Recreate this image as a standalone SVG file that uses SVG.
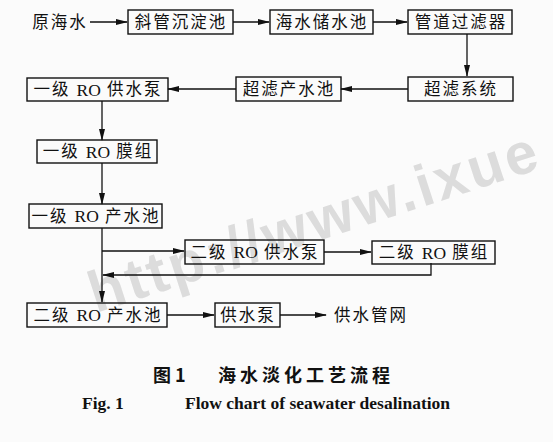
<svg xmlns="http://www.w3.org/2000/svg" width="553" height="442" viewBox="0 0 553 442">
<style>
.bg{fill:#fbfbfb}
.box{fill:none;stroke:#111;stroke-width:1.4}
.t{font-family:"Liberation Serif","Noto Sans CJK SC",serif;font-size:16.5px;fill:#111;text-anchor:middle;dominant-baseline:central;letter-spacing:2px}
.ro{font-size:17.5px;letter-spacing:0}
.ln{fill:none;stroke:#111;stroke-width:1.3}
.arr{marker-end:url(#ah)}
.wm{font-family:"Liberation Sans",sans-serif;font-weight:bold;font-size:58px;fill:#dcdcdc;letter-spacing:3px}
.cap1{font-family:"Noto Sans CJK SC",sans-serif;font-weight:bold;font-size:18px;fill:#111}
.cap2{font-family:"Liberation Serif",serif;font-weight:bold;font-size:17.5px;fill:#111}
</style>
<defs>
<marker id="ah" markerWidth="12" markerHeight="8" refX="11" refY="4" orient="auto" markerUnits="userSpaceOnUse">
<path d="M0,1 L12,4 L0,7 Z" fill="#111"/>
</marker>
</defs>
<rect class="bg" width="553" height="442"/>
<text class="wm" transform="translate(96,313) rotate(-18)">http://www.ixue</text>
<g id="connectors">
<line class="ln arr" x1="90" y1="22" x2="127" y2="22"/>
<line class="ln arr" x1="233" y1="22" x2="269" y2="22"/>
<line class="ln arr" x1="373" y1="22" x2="407" y2="22"/>
<line class="ln arr" x1="467" y1="34" x2="467" y2="76"/>
<line class="ln arr" x1="408" y1="89" x2="341" y2="89"/>
<line class="ln arr" x1="236" y1="89" x2="168" y2="89"/>
<line class="ln arr" x1="102" y1="101" x2="102" y2="140"/>
<line class="ln arr" x1="102" y1="163" x2="102" y2="204"/>
<line class="ln arr" x1="102" y1="228" x2="102" y2="302"/>
<line class="ln arr" x1="102" y1="251" x2="184" y2="251"/>
<line class="ln arr" x1="324" y1="252" x2="371" y2="252"/>
<polyline class="ln arr" points="431,263 431,275 103,275"/>
<line class="ln arr" x1="167" y1="315" x2="214" y2="315"/>
<line class="ln arr" x1="280" y1="315" x2="326" y2="315"/>
</g>
<g id="n_seawater"><text class="t" x="60" y="22">原海水</text></g>
<g id="n_sed"><rect class="box" x="128" y="10" width="105" height="24"/><text class="t" x="181" y="22">斜管沉淀池</text></g>
<g id="n_store"><rect class="box" x="270" y="10" width="103" height="24"/><text class="t" x="322" y="22">海水储水池</text></g>
<g id="n_filter"><rect class="box" x="408" y="10" width="104" height="24"/><text class="t" x="461" y="22">管道过滤器</text></g>
<g id="n_uf"><rect class="box" x="408" y="77" width="105" height="24"/><text class="t" x="461" y="89">超滤系统</text></g>
<g id="n_ufpool"><rect class="box" x="236" y="77" width="105" height="24"/><text class="t" x="289" y="89">超滤产水池</text></g>
<g id="n_ro1pump"><rect class="box" x="27" y="78" width="141" height="23"/><text class="t" x="98" y="89.5">一级 <tspan class="ro">RO</tspan> 供水泵</text></g>
<g id="n_ro1mem"><rect class="box" x="37" y="140" width="120" height="23"/><text class="t" x="98" y="151.5">一级 <tspan class="ro">RO</tspan> 膜组</text></g>
<g id="n_ro1pool"><rect class="box" x="29" y="204" width="133" height="24"/><text class="t" x="96" y="216">一级 <tspan class="ro">RO</tspan> 产水池</text></g>
<g id="n_ro2pump"><rect class="box" x="185" y="240" width="139" height="24"/><text class="t" x="255" y="252">二级 <tspan class="ro">RO</tspan> 供水泵</text></g>
<g id="n_ro2mem"><rect class="box" x="372" y="241" width="123" height="23"/><text class="t" x="434" y="252.5">二级 <tspan class="ro">RO</tspan> 膜组</text></g>
<g id="n_ro2pool"><rect class="box" x="27" y="303" width="140" height="24"/><text class="t" x="98" y="315">二级 <tspan class="ro">RO</tspan> 产水池</text></g>
<g id="n_pump"><rect class="box" x="215" y="303" width="65" height="24"/><text class="t" x="248" y="315">供水泵</text></g>
<g id="n_net"><text class="t" x="371" y="315">供水管网</text></g>
<text class="cap1" x="153" y="382">图 1<tspan x="218" letter-spacing="4">海水淡化工艺流程</tspan></text>
<text class="cap2" x="82" y="409">Fig. 1<tspan x="185">Flow chart of seawater desalination</tspan></text>
</svg>
